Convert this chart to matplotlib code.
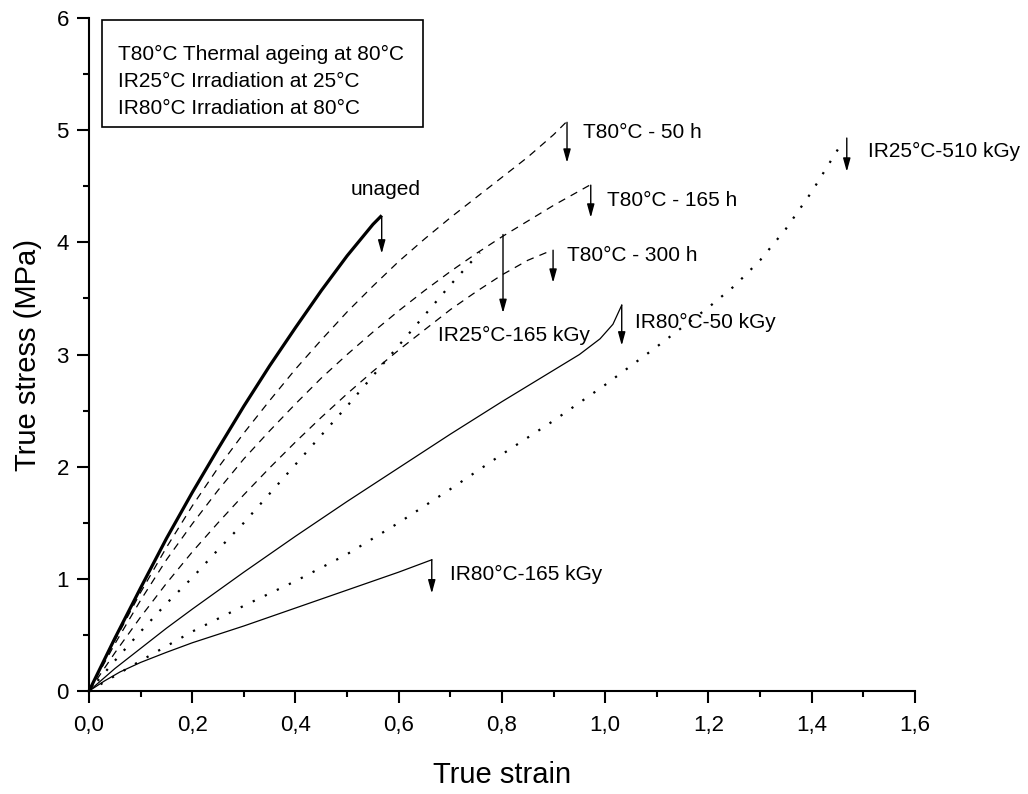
import matplotlib
matplotlib.use('Agg')
import matplotlib.pyplot as plt
from matplotlib.patches import Rectangle
from matplotlib.ticker import MultipleLocator

plt.rcParams['font.family'] = ['Liberation Sans', 'DejaVu Sans']

# curves (true strain, true stress in MPa)
unaged_x = [0, 0.05, 0.10, 0.15, 0.20, 0.25, 0.30, 0.35, 0.40, 0.45, 0.50, 0.55, 0.565]
unaged_y = [0, 0.47, 0.92, 1.36, 1.77, 2.16, 2.54, 2.90, 3.24, 3.57, 3.88, 4.16, 4.23]

t50_x = [0, 0.05, 0.10, 0.15, 0.20, 0.25, 0.30, 0.35, 0.40, 0.45, 0.50,
         0.55, 0.60, 0.65, 0.70, 0.75, 0.80, 0.85, 0.90, 0.924]
t50_y = [0, 0.45, 0.88, 1.28, 1.65, 1.99, 2.30, 2.59, 2.87, 3.13, 3.38,
         3.61, 3.83, 4.03, 4.22, 4.40, 4.58, 4.76, 4.96, 5.07]

t165_x = [0, 0.05, 0.10, 0.15, 0.20, 0.25, 0.30, 0.35, 0.40, 0.45, 0.50,
          0.55, 0.60, 0.65, 0.70, 0.75, 0.80, 0.85, 0.90, 0.970]
t165_y = [0, 0.42, 0.81, 1.17, 1.49, 1.79, 2.07, 2.32, 2.56, 2.79, 3.00,
          3.20, 3.39, 3.57, 3.74, 3.90, 4.05, 4.19, 4.33, 4.51]

t300_x = [0, 0.05, 0.10, 0.15, 0.20, 0.25, 0.30, 0.35, 0.40, 0.45, 0.50,
          0.55, 0.60, 0.65, 0.70, 0.75, 0.80, 0.85, 0.897]
t300_y = [0, 0.34, 0.66, 0.96, 1.24, 1.50, 1.75, 1.99, 2.22, 2.44, 2.65,
          2.85, 3.04, 3.22, 3.40, 3.56, 3.71, 3.84, 3.93]

ir25_165_x = [0, 0.05, 0.10, 0.15, 0.20, 0.25, 0.30, 0.35, 0.40, 0.45, 0.50,
              0.55, 0.60, 0.65, 0.70, 0.757]
ir25_165_y = [0, 0.27, 0.53, 0.78, 1.01, 1.26, 1.50, 1.76, 2.02, 2.28, 2.54,
              2.81, 3.08, 3.35, 3.62, 3.91]

ir25_510_x = [0, 0.10, 0.20, 0.30, 0.40, 0.50, 0.60, 0.70, 0.80, 0.90, 1.00,
              1.10, 1.20, 1.25, 1.30, 1.35, 1.40, 1.459]
ir25_510_y = [0, 0.27, 0.53, 0.76, 0.98, 1.22, 1.50, 1.80, 2.11, 2.41, 2.73,
              3.07, 3.42, 3.61, 3.84, 4.12, 4.45, 4.89]

ir80_50_x = [0, 0.05, 0.10, 0.15, 0.20, 0.30, 0.40, 0.50, 0.60, 0.70, 0.80,
             0.90, 0.95, 0.99, 1.015, 1.032]
ir80_50_y = [0, 0.20, 0.38, 0.56, 0.73, 1.06, 1.38, 1.69, 1.99, 2.29, 2.58,
             2.86, 3.00, 3.14, 3.27, 3.44]

ir80_165_x = [0, 0.03, 0.06, 0.10, 0.15, 0.20, 0.30, 0.40, 0.50, 0.60, 0.664]
ir80_165_y = [0, 0.09, 0.17, 0.255, 0.345, 0.43, 0.58, 0.74, 0.90, 1.06, 1.17]

# break arrows: x, top, bottom
arrow_x = [0.567, 0.926, 0.972, 0.899, 0.802, 1.032, 1.468, 0.664]
arrow_top = [4.23, 5.07, 4.51, 3.93, 4.07, 3.44, 4.93, 1.17]
arrow_bottom = [3.90, 4.71, 4.22, 3.64, 3.37, 3.08, 4.63, 0.87]

labels = ['unaged', 'T80°C - 50 h', 'T80°C - 165 h', 'T80°C - 300 h',
          'IR25°C-165 kGy', 'IR80°C-50 kGy', 'IR25°C-510 kGy', 'IR80°C-165 kGy']
label_x = [0.506, 0.957, 1.003, 0.926, 0.676, 1.058, 1.509, 0.699]
label_y = [4.47, 4.98, 4.37, 3.88, 3.17, 3.29, 4.81, 1.04]

legend_lines = ['T80°C Thermal ageing at 80°C',
                'IR25°C Irradiation at 25°C',
                'IR80°C Irradiation at 80°C']

xticks = [0, 0.2, 0.4, 0.6, 0.8, 1.0, 1.2, 1.4, 1.6]
xtick_labels = ['0,0', '0,2', '0,4', '0,6', '0,8', '1,0', '1,2', '1,4', '1,6']
yticks = [0, 1, 2, 3, 4, 5, 6]


def main():
    fig = plt.figure(figsize=(10.28, 7.94), dpi=100)
    ax = fig.add_axes([0.0866, 0.1297, 0.8034, 0.8476])

    dash = dict(color='k', lw=0.9, dashes=(6, 5))
    dot = dict(color='k', lw=1.6, dashes=(1, 5), dash_capstyle='butt')

    ax.plot(unaged_x, unaged_y, color='k', lw=2.3, clip_on=False)
    ax.plot(t50_x, t50_y, **dash)
    ax.plot(t165_x, t165_y, **dash)
    ax.plot(t300_x, t300_y, **dash)
    ax.plot(ir25_165_x, ir25_165_y, **dot)
    ax.plot(ir25_510_x, ir25_510_y, **dot)
    ax.plot(ir80_50_x, ir80_50_y, color='k', lw=0.9)
    ax.plot(ir80_165_x, ir80_165_y, color='k', lw=0.9)

    for x, yt, yb in zip(arrow_x, arrow_top, arrow_bottom):
        ax.annotate('', xy=(x, yb), xytext=(x, yt),
                    arrowprops=dict(arrowstyle='-|>,head_length=0.8,head_width=0.22',
                                    color='k', lw=1.0, mutation_scale=10,
                                    shrinkA=0, shrinkB=0))

    for txt, x, y in zip(labels, label_x, label_y):
        ax.text(x, y, txt, fontsize=15, va='center', ha='left')

    # legend box
    ax.add_patch(Rectangle((0.0157, 0.838), 0.3883, 0.159, transform=ax.transAxes,
                           fill=False, lw=1.2, ec='k'))
    for i, line in enumerate(legend_lines):
        ax.text(0.035, 0.946 - i * 0.0405, line, fontsize=15,
                va='center', ha='left', transform=ax.transAxes)

    ax.set_xlim(0, 1.6)
    ax.set_ylim(0, 6)
    ax.set_xticks(xticks)
    ax.set_xticklabels(xtick_labels)
    ax.set_yticks(yticks)
    ax.xaxis.set_minor_locator(MultipleLocator(0.1))
    ax.yaxis.set_minor_locator(MultipleLocator(0.5))

    for s in ['top', 'right']:
        ax.spines[s].set_visible(False)
    for s in ['left', 'bottom']:
        ax.spines[s].set_linewidth(1.5)

    ax.tick_params(which='major', direction='out', length=8.5, width=1.5,
                   labelsize=16)
    ax.tick_params(axis='x', which='major', pad=9)
    ax.tick_params(axis='y', which='major', pad=6)
    ax.tick_params(which='minor', direction='out', length=4.5, width=1.5)

    ax.set_xlabel('True strain', fontsize=21, labelpad=18)
    ax.set_ylabel('True stress (MPa)', fontsize=21, labelpad=10)

    fig.savefig('out.png', dpi=100)


if __name__ == '__main__':
    main()
